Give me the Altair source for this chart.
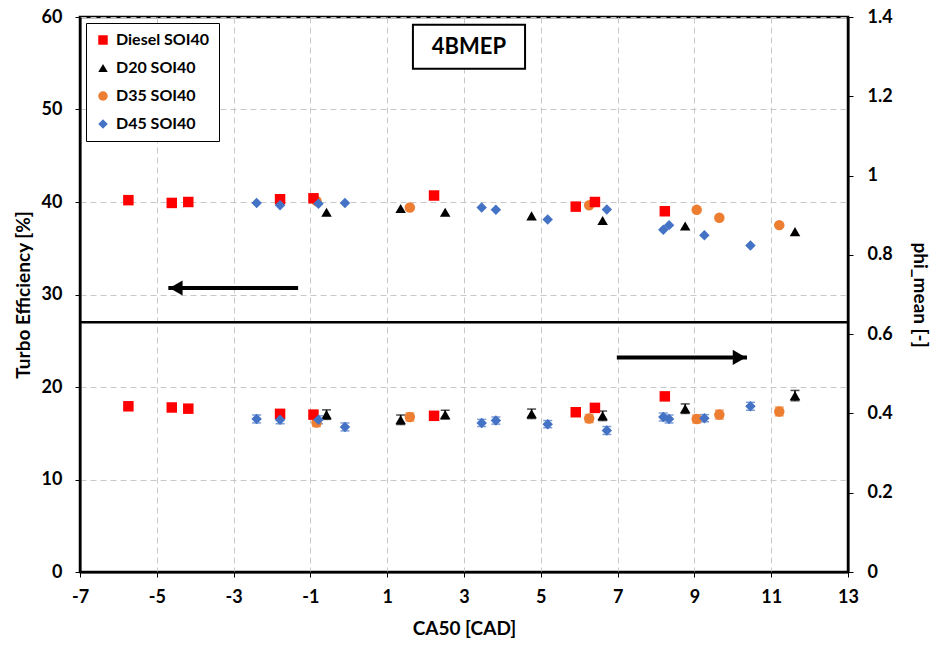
import altair as alt
import pandas as pd

# ---------------- data ----------------
series_names = ["Diesel SOI40", "D20 SOI40", "D35 SOI40", "D45 SOI40"]
series_colors = ["#FF0000", "#000000", "#ED7D31", "#4472C4"]
series_shapes = ["square", "triangle-up", "circle", "diamond"]

# Diesel SOI40
diesel_ca50 = [-5.74, -4.61, -4.18, -1.79, -0.92, 2.22, 5.91, 6.41, 8.23]
diesel_eff = [40.2, 39.9, 40.0, 40.3, 40.4, 40.7, 39.5, 40.0, 39.0]
diesel_phi = [0.418, 0.415, 0.412, 0.399, 0.397, 0.394, 0.403, 0.414, 0.443]
diesel_err = [0.006, 0.006, 0.006, 0.006, 0.006, 0.006, 0.006, 0.006, 0.006]

# D20 SOI40
d20_ca50 = [-0.58, 1.35, 2.51, 4.76, 6.61, 8.76, 11.62]
d20_eff = [38.9, 39.3, 38.9, 38.5, 38.0, 37.4, 36.8]
d20_phi = [0.397, 0.384, 0.397, 0.399, 0.394, 0.412, 0.445]
d20_err = [0.012, 0.012, 0.011, 0.012, 0.012, 0.012, 0.013]

# D35 SOI40
d35_ca50 = [-0.84, 1.59, 6.26, 9.06, 9.65, 11.21]
d35_eff = [40.1, 39.4, 39.65, 39.15, 38.3, 37.5]
d35_phi = [0.377, 0.391, 0.387, 0.386, 0.397, 0.405]
d35_err = [0.010, 0.010, 0.010, 0.010, 0.011, 0.011]

# D45 SOI40
d45_ca50 = [-2.40, -1.79, -0.79, -0.10, 3.46, 3.83, 5.18, 6.72, 8.19, 8.34, 9.26, 10.46]
d45_eff = [39.9, 39.65, 39.8, 39.9, 39.4, 39.15, 38.1, 39.2, 37.0, 37.5, 36.4, 35.3]
d45_phi = [0.386, 0.384, 0.384, 0.366, 0.376, 0.382, 0.373, 0.357, 0.391, 0.386, 0.388, 0.418]
d45_err = [0.010, 0.010, 0.010, 0.010, 0.009, 0.009, 0.009, 0.010, 0.010, 0.010, 0.009, 0.010]

x_ticks = [-7, -5, -3, -1, 1, 3, 5, 7, 9, 11, 13]
left_ticks = [0, 10, 20, 30, 40, 50, 60]
right_ticks = [0, 0.2, 0.4, 0.6, 0.8, 1.0, 1.2, 1.4]

separator_level = [27]
# arrows: start x, tip x, level (on left axis)
arrow_start = [-1.32, 6.98]
arrow_tip = [-4.70, 10.37]
arrow_level = [30.7, 23.2]
arrow_dir = ["triangle-left", "triangle-right"]

box_label = "4BMEP"
box_x = [1.67, 4.59]
box_y = [54.4, 59.15]

# ---------------- frames ----------------
groups = [
    ("D35 SOI40", d35_ca50, d35_eff, d35_phi, d35_err),
    ("Diesel SOI40", diesel_ca50, diesel_eff, diesel_phi, diesel_err),
    ("D20 SOI40", d20_ca50, d20_eff, d20_phi, d20_err),
    ("D45 SOI40", d45_ca50, d45_eff, d45_phi, d45_err),
]
rows_top, rows_bot = [], []
for name, xs, effs, phis, errs in groups:
    for x, e, p, er in zip(xs, effs, phis, errs):
        rows_top.append({"x": x, "y": e, "series": name})
        rows_bot.append({"x": x, "phi": p, "lo": p - er, "hi": p + er, "series": name})
top_df = pd.DataFrame(rows_top)
bot_df = pd.DataFrame(rows_bot)

sep_df = pd.DataFrame({"y": separator_level})
arrow_df = pd.DataFrame({
    "x": arrow_start, "x2": arrow_tip, "y": arrow_level, "shape": arrow_dir,
})
head_offset = [0.2 if s == "triangle-left" else -0.2 for s in arrow_dir]
arrow_df["hx"] = [t + o for t, o in zip(arrow_tip, head_offset)]
box_df = pd.DataFrame({"x": [box_x[0]], "x2": [box_x[1]], "y": [box_y[0]], "y2": [box_y[1]],
                       "tx": [(box_x[0] + box_x[1]) / 2], "ty": [(box_y[0] + box_y[1]) / 2],
                       "label": [box_label]})

FONT = "Lato"
axis_style = dict(
    labelFont=FONT, labelFontWeight="bold", labelFontSize=18, labelColor="black",
    titleFont=FONT, titleFontWeight="bold", titleFontSize=19, titleColor="black",
    domainColor="black", domainWidth=2, tickColor="black", tickSize=5, tickWidth=1,
    gridColor="#c8c8c8", gridDash=[6, 4], gridWidth=1,
)

x_scale = alt.Scale(domain=[-7, 13], nice=False, zero=False)
x_axis = alt.Axis(values=x_ticks, title="CA50 [CAD]", grid=True, labelFlush=False,
                  labelExpr="replace(datum.label, '\u2212', '-')",
                  labelPadding=11, titlePadding=13, **axis_style)
left_scale = alt.Scale(domain=[0, 60], nice=False)
left_axis = alt.Axis(values=left_ticks, title="Turbo Efficiency [%]", orient="left",
                     grid=True, labelPadding=13, titlePadding=8, **axis_style)
right_scale = alt.Scale(domain=[0, 1.4], nice=False)
right_axis = alt.Axis(values=right_ticks, title="phi_mean [-]", orient="right", format="~g",
                      grid=False, labelPadding=14, titlePadding=17, **axis_style)

X = lambda f="x": alt.X(f"{f}:Q", scale=x_scale, axis=x_axis)
YL = lambda f="y": alt.Y(f"{f}:Q", scale=left_scale, axis=left_axis)
YR = lambda f="phi": alt.Y(f"{f}:Q", scale=right_scale, axis=right_axis)

color_enc = alt.Color("series:N", scale=alt.Scale(domain=series_names, range=series_colors),
                      legend=alt.Legend(orient="none", legendX=6, legendY=6, title=None,
                                        strokeColor="black", fillColor="white", padding=9,
                                        labelFont=FONT, labelFontWeight="bold", labelFontSize=16,
                                        labelColor="black", symbolSize=90, rowPadding=12,
                                        labelOffset=5, symbolStrokeWidth=0))
shape_enc = alt.Shape("series:N", scale=alt.Scale(domain=series_names, range=series_shapes),
                      legend=alt.Legend(orient="none", legendX=6, legendY=6, title=None))

# ---------------- left-scale layers ----------------
sep = alt.Chart(sep_df).mark_rule(color="black", strokeWidth=2.5).encode(y=YL())

top_pts = alt.Chart(top_df).mark_point(filled=True, opacity=1, size=110).encode(
    x=X(), y=YL(), color=color_enc, shape=shape_enc)

arrow_line = alt.Chart(arrow_df).mark_rule(color="black", strokeWidth=4).encode(
    x=X(), x2="x2:Q", y=YL())
arrow_head = alt.Chart(arrow_df).mark_point(filled=True, opacity=1, color="black", size=230).encode(
    x=X("hx"), y=YL(), shape=alt.Shape("shape:N", scale=None))

box_rect = alt.Chart(box_df).mark_rect(fill="white", stroke="black", strokeWidth=2).encode(
    x=X(), x2="x2:Q", y=YL(), y2="y2:Q")
box_text = alt.Chart(box_df).mark_text(font=FONT, fontWeight="bold", fontSize=22,
                                       color="black", baseline="middle", align="center").encode(
    x=X("tx"), y=YL("ty"), text="label:N")

left_layer = alt.layer(sep, box_rect, box_text, arrow_line, arrow_head, top_pts)

# ---------------- right-scale layers ----------------
err_layers = []
for name, col in zip(series_names, series_colors):
    sub = bot_df[bot_df["series"] == name]
    base = alt.Chart(sub)
    err_layers.append(base.mark_rule(color=col, strokeWidth=1.5).encode(
        x=X(), y=YR("lo"), y2="hi:Q"))
    err_layers.append(base.mark_tick(color=col, orient="horizontal", size=9, thickness=1.5).encode(
        x=X(), y=YR("lo")))
    err_layers.append(base.mark_tick(color=col, orient="horizontal", size=9, thickness=1.5).encode(
        x=X(), y=YR("hi")))

bot_pts = alt.Chart(bot_df).mark_point(filled=True, opacity=1, size=110).encode(
    x=X(), y=YR(), color=color_enc, shape=shape_enc)

right_layer = alt.layer(*err_layers, bot_pts)

chart = alt.layer(left_layer, right_layer).resolve_scale(y="independent").properties(
    width=768, height=555,
    background="white",
    autosize=alt.AutoSizeParams(type="none"),
    padding={"left": 80, "top": 17, "right": 85, "bottom": 76},
).configure_view(stroke="black", strokeWidth=2.5)

chart.save("out.html", embed_options={"renderer": "svg", "actions": False})
